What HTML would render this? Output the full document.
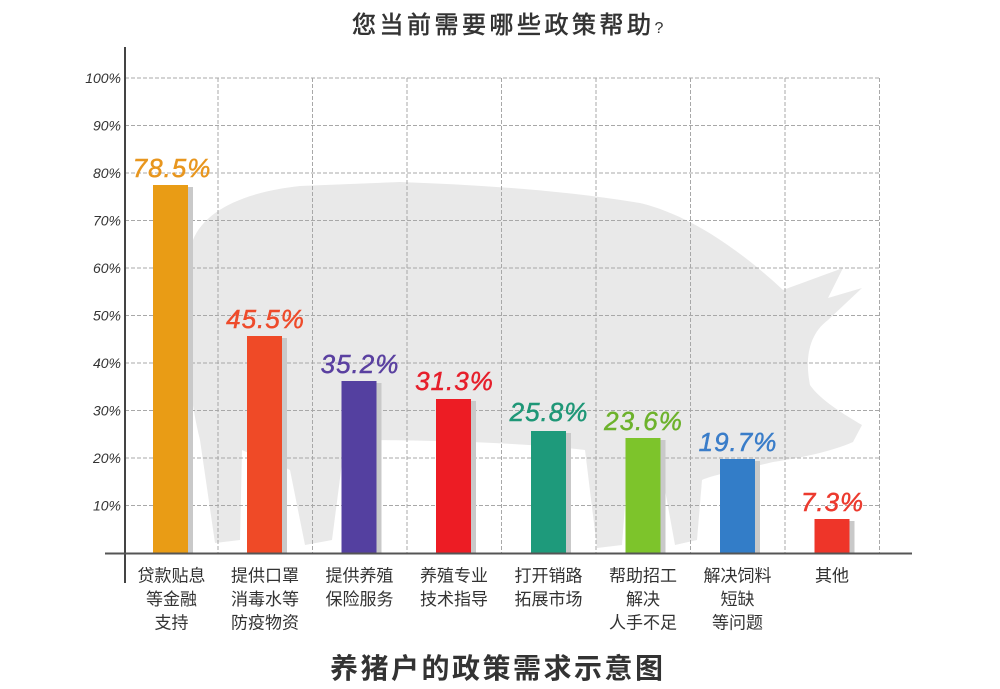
<!DOCTYPE html>
<html>
<head>
<meta charset="utf-8">
<style>
html,body{margin:0;padding:0;background:#fff;}
svg{display:block;}
</style>
</head>
<body>
<svg width="1000" height="689" viewBox="0 0 1000 689" xmlns="http://www.w3.org/2000/svg">
<rect width="1000" height="689" fill="#fff"/>
<!-- pig silhouette -->
<path fill="#e9e9e9" d="M193,240 C205,210 245,192 300,186 L400,182 C480,185 560,190 640,203 C690,215 740,250 783,290 L843,268 L828,298 L862,288 L828,320 C808,335 805,360 810,385 C820,400 845,415 862,425 L853,442 C830,452 800,458 773,462 C740,470 712,475 702,480 L697,540 L675,545 L665,490 C650,485 635,480 627,478 L622,545 L597,548 L585,450 C520,442 420,440 345,440 L332,540 L305,545 L290,470 C270,460 252,455 242,450 L240,540 L215,543 L200,440 C190,400 185,350 188,300 C188,272 189,255 193,240 Z"/>
<!-- grid -->
<g stroke="#a8a8a8" stroke-width="1" stroke-dasharray="4,2" fill="none">
<line x1="125" y1="78" x2="880" y2="78"/>
<line x1="125" y1="125.5" x2="880" y2="125.5"/>
<line x1="125" y1="173" x2="880" y2="173"/>
<line x1="125" y1="220.5" x2="880" y2="220.5"/>
<line x1="125" y1="268" x2="880" y2="268"/>
<line x1="125" y1="315.5" x2="880" y2="315.5"/>
<line x1="125" y1="363" x2="880" y2="363"/>
<line x1="125" y1="410.5" x2="880" y2="410.5"/>
<line x1="125" y1="458" x2="880" y2="458"/>
<line x1="125" y1="505.5" x2="880" y2="505.5"/>
<line x1="218" y1="78" x2="218" y2="553"/>
<line x1="312.5" y1="78" x2="312.5" y2="553"/>
<line x1="407" y1="78" x2="407" y2="553"/>
<line x1="501.5" y1="78" x2="501.5" y2="553"/>
<line x1="596" y1="78" x2="596" y2="553"/>
<line x1="690.5" y1="78" x2="690.5" y2="553"/>
<line x1="785" y1="78" x2="785" y2="553"/>
<line x1="879.5" y1="78" x2="879.5" y2="553"/>
</g>
<!-- shadows -->
<g fill="#c9c9c9">
<rect x="188" y="187" width="5" height="366"/>
<rect x="282" y="338" width="5" height="215"/>
<rect x="376.5" y="383" width="5" height="170"/>
<rect x="471" y="401" width="5" height="152"/>
<rect x="566" y="433" width="5" height="120"/>
<rect x="660.5" y="440" width="5" height="113"/>
<rect x="755" y="461" width="5" height="92"/>
<rect x="849.5" y="521" width="5" height="32"/>
</g>
<!-- bars -->
<rect x="153" y="185" width="35" height="368" fill="#E99C15"/>
<rect x="247" y="336" width="35" height="217" fill="#EF4A27"/>
<rect x="341.5" y="381" width="35" height="172" fill="#5440A0"/>
<rect x="436" y="399" width="35" height="154" fill="#ED1C24"/>
<rect x="531" y="431" width="35" height="122" fill="#1E9A7B"/>
<rect x="625.5" y="438" width="35" height="115" fill="#7DC42B"/>
<rect x="720" y="459" width="35" height="94" fill="#337DC8"/>
<rect x="814.5" y="519" width="35" height="34" fill="#EE3529"/>
<!-- axes -->
<line x1="125" y1="47" x2="125" y2="583" stroke="#444" stroke-width="2"/>
<line x1="105" y1="553.5" x2="912" y2="553.5" stroke="#555" stroke-width="2"/>
<!-- y labels -->
<g font-family="Liberation Sans, sans-serif" font-style="italic" font-size="14" fill="#333" text-anchor="end">
<text x="121" y="83">100%</text>
<text x="121" y="130.5">90%</text>
<text x="121" y="178">80%</text>
<text x="121" y="225.5">70%</text>
<text x="121" y="273">60%</text>
<text x="121" y="320.5">50%</text>
<text x="121" y="368">40%</text>
<text x="121" y="415.5">30%</text>
<text x="121" y="463">20%</text>
<text x="121" y="510.5">10%</text>
</g>
<!-- value labels -->
<g font-family="Liberation Sans, sans-serif" font-style="italic" font-size="26" letter-spacing="1" text-anchor="middle" stroke-width="0.5">
<text x="172" y="177" fill="#E8961E" stroke="#E8961E">78.5%</text>
<text x="265.5" y="328" fill="#EE4B2B" stroke="#EE4B2B">45.5%</text>
<text x="360" y="373" fill="#5A40A0" stroke="#5A40A0">35.2%</text>
<text x="454.5" y="390" fill="#E61F2B" stroke="#E61F2B">31.3%</text>
<text x="549" y="421" fill="#1F9777" stroke="#1F9777">25.8%</text>
<text x="643.5" y="430" fill="#6DB22C" stroke="#6DB22C">23.6%</text>
<text x="738" y="451" fill="#3A7DC9" stroke="#3A7DC9">19.7%</text>
<text x="832.5" y="511" fill="#EC3A2E" stroke="#EC3A2E">7.3%</text>
</g>
<!-- category labels -->
<g font-family="Liberation Sans, Noto Sans CJK SC, sans-serif" font-size="17" fill="#333" text-anchor="middle">
<text x="171.5" y="581.5">贷款贴息</text>
<text x="171.5" y="605">等金融</text>
<text x="171.5" y="628.5">支持</text>
<text x="265" y="581.5">提供口罩</text>
<text x="265" y="605">消毒水等</text>
<text x="265" y="628.5">防疫物资</text>
<text x="359.5" y="581.5">提供养殖</text>
<text x="359.5" y="605">保险服务</text>
<text x="454" y="581.5">养殖专业</text>
<text x="454" y="605">技术指导</text>
<text x="548.5" y="581.5">打开销路</text>
<text x="548.5" y="605">拓展市场</text>
<text x="643" y="581.5">帮助招工</text>
<text x="643" y="605">解决</text>
<text x="643" y="628.5">人手不足</text>
<text x="737.5" y="581.5">解决饲料</text>
<text x="737.5" y="605">短缺</text>
<text x="737.5" y="628.5">等问题</text>
<text x="832" y="581.5">其他</text>
</g>
<!-- titles -->
<text x="352" y="33" font-family="Liberation Sans, Noto Sans CJK SC, sans-serif" font-size="24" fill="#333" stroke="#333" stroke-width="0.6" letter-spacing="3.5">您当前需要哪些政策帮助<tspan font-size="16" stroke-width="0">?</tspan></text>
<text x="330" y="678" font-family="Liberation Sans, Noto Sans CJK SC, sans-serif" font-size="28" font-weight="bold" fill="#333" letter-spacing="2.5">养猪户的政策需求示意图</text>
</svg>
</body>
</html>
